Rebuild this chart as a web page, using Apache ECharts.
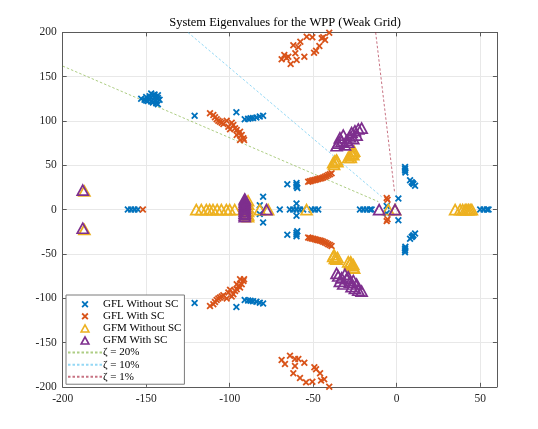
<!DOCTYPE html>
<html>
<head>
<meta charset="utf-8">
<script src="https://cdn.jsdelivr.net/npm/echarts@6/dist/echarts.min.js"></script>
<style>html,body{margin:0;padding:0;background:#fff}#c{width:538px;height:429px}</style>
</head>
<body>
<div id="c"></div>
<script>
// ---------- data ----------
const xTicks = [-200, -150, -100, -50, 0, 50];
const yTicks = [-200, -150, -100, -50, 0, 50, 100, 150, 200];
const seriesNames = ['GFL Without SC', 'GFL With SC', 'GFM Without SC', 'GFM With SC'];
const zetaNames = ['\u03b6 = 20%', '\u03b6 = 10%', '\u03b6 = 1%'];

const gflWithoutSC = [
  [-153,125],[-151,124],[-150,123],[-149,122.5],[-147,122],[-146,121],[-144,120],[-143,119],[-150,127],[-148,128],
  [-146,129],[-145,127],[-143,126],[-142,124],[-147,131],[-145,130],[-143,129],[-148,125],[-144,123],
  [-121,106],[-96,110],
  [-91,102],[-89,102.5],[-87.5,103],[-86,103.5],[-84,104],[-82,105],[-80,106],
  [-82,5],[-80,14.5],[-65.5,28.5],[-60,30],[-60,28],[-60,26],[-59.5,24.5],[-60,7],[-6,4],[1,12.5],
  [5,48],[5,46],[5,44],[5.2,42],[8,33],[9,31],[10,29],[11,27],[9.5,30],
  [-161,0],[-159,0],[-157,0],[-155,0],[-70,0],[-64,0],[-62,0],[-60,0],[-58,0],[-56,0],[-51,0],[-49,0],[-47,0],
  [-22,0],[-20,0],[-18,0],[-16,0],[-15,0],[50,0],[52,0],[54,0],[55,0],
  [-153,-125],[-151,-124],[-150,-123],[-149,-122.5],[-147,-122],[-146,-121],[-144,-120],[-143,-119],[-150,-127],[-148,-128],
  [-146,-129],[-145,-127],[-143,-126],[-142,-124],[-147,-131],[-145,-130],[-143,-129],[-148,-125],[-144,-123],
  [-121,-105.5],[-96,-110],
  [-91,-102],[-89,-102.5],[-87.5,-103],[-86,-103.5],[-84,-104],[-82,-105],[-80,-106],
  [-82,-5],[-80,-14.5],[-65.5,-28.5],[-60,-30],[-60,-28],[-60,-26],[-59.5,-24.5],[-60,-7],[-6,-4],[1,-12],
  [5,-48],[5,-46],[5,-44],[5.2,-42],[8,-33],[9,-31],[10,-29],[11,-27],[9.5,-30]
];

const gflWithSC = [
  [-111.8,108.7],[-109.8,106.8],[-108.8,104.2],[-107.8,101.9],[-106.8,100.3],[-105.8,99.2],[-104.8,98.1],[-103.8,96.6],
  [-101.8,100.3],[-100.8,93.6],[-98.8,98.1],[-97.8,95.5],[-96.8,91.8],[-95.8,89.8],[-94.8,86.1],[-93.8,87.9],
  [-92.8,84.2],[-91.8,80.5],[-95.8,84.2],[-93.8,78.6],[-91.4,78.6],[-99.8,90.6],
  [-40.4,199.7],[-44,194.5],[-44.9,193.3],[-42.9,191.4],[-46.3,184.6],[-48.3,179.4],[-49.5,177],[-50.5,194.5],
  [-53.9,195.2],[-57.7,189.5],[-58.9,183.2],[-61.9,185.4],[-60.7,176.4],[-59.9,168.8],[-55.3,172.6],[-63.5,164.3],
  [-64.9,172.6],[-67.3,174.5],[-68.9,169.6],[-66,171],
  [-53,31.5],[-52,32],[-51,32.5],[-50,33],[-49,33.5],[-48,34],[-47,34.5],[-46,35],[-45,35.5],[-44,36.2],
  [-43,37],[-42,38],[-41,39],[-40,40],[-39,41],
  [-6,13],[-5.5,11],[-152,0],
  [-111.8,-108.7],[-109.8,-106.8],[-108.8,-104.2],[-107.8,-101.9],[-106.8,-100.3],[-105.8,-99.2],[-104.8,-98.1],[-103.8,-96.6],
  [-101.8,-100.3],[-100.8,-93.6],[-98.8,-98.1],[-97.8,-95.5],[-96.8,-91.8],[-95.8,-89.8],[-94.8,-86.1],[-93.8,-87.9],
  [-92.8,-84.2],[-91.8,-80.5],[-95.8,-84.2],[-93.8,-78.6],[-91.4,-78.6],[-99.8,-90.6],
  [-68.9,-169.7],[-63.9,-164.9],[-66.9,-174.3],[-60.9,-168.6],[-58.9,-168.6],[-60.9,-176.5],[-61.9,-184.8],[-57.9,-190],
  [-55.3,-172.8],[-54.3,-195],[-50.5,-194.2],[-49.3,-178],[-48.3,-180.3],[-45.9,-184.8],[-45.3,-193],[-43.4,-191.5],[-40.4,-199.9],
  [-53,-31.5],[-52,-32],[-51,-32.5],[-50,-33],[-49,-33.5],[-48,-34],[-47,-34.5],[-46,-35],[-45,-35.5],[-44,-36.2],
  [-43,-37],[-42,-38],[-41,-39],[-40,-40],[-39,-41],
  [-6,-13],[-5.5,-11]
];

const gfmWithoutSC = [
  [-187,21],[-187,-22.5],
  [-120,0],[-117,0],[-114,0],[-112,0],[-110,0],[-107.5,0],[-105,0],[-102,0],[-100,0],[-97,0],
  [-89,10],[-89,6],[-89,2],[-89,-2],[-89,-6],[-89,-8],
  [-82,0],[-77,0],[-54,0],[-5,0],[-1,0],
  [35,0],[38,0],[39.5,0],[41,0],[42,0],[43,0],[44,0],[45,0],
  [-38,53],[-37,55],[-36,56],[-37.5,51],[-35.5,54],[-29,59],[-28,61],[-27,63],[-26,65],[-25.5,66],[-27.5,59],[-26,62],
  [-38,-53],[-37,-55],[-36,-56],[-37.5,-51],[-35.5,-54],[-29,-59],[-28,-61],[-27,-63],[-26,-65],[-25.5,-66],[-27.5,-59],[-26,-62]
];

const gfmWithSC = [
  [-188,22],[-188,-21],
  [-91,12],[-91,10],[-91,8],[-91,6],[-91,4],[-91,2],[-91,0],[-91,-2],[-91,-4],[-91,-6],[-91,-8],
  [-78,0],[-10.5,0],[-1,0],
  [-36,72],[-35,75],[-33,77],[-34,81],[-32,84],[-30,78],[-28,82],[-27,87],[-25,89],[-24,84],[-23,91],[-21,92],
  [-31,73],[-29,76],[-26,80],
  [-36,-72],[-35,-75],[-33,-77],[-34,-81],[-32,-84],[-30,-78],[-28,-82],[-27,-87],[-25,-89],[-24,-84],[-23,-91],[-21,-92],
  [-31,-73],[-29,-76],[-26,-80]
];

const zeta20Line = [[-200,162],[-11,9]];
const zeta10Line = [[-125,200],[-9,14.5]];
const zeta1Line = [[-12.6,200],[-1.3,20]];

// ---------- styling ----------
const C_BLUE = '#0072BD', C_ORANGE = '#D95319', C_YELLOW = '#EDB120', C_PURPLE = '#7E2F8E';
const FONT = 'Liberation Serif';
const X_PATH = 'path://M0,1.8L1.8,0L5,3.2L8.2,0L10,1.8L6.8,5L10,8.2L8.2,10L5,6.8L1.8,10L0,8.2L3.2,5Z';
const TRI_PATH = 'path://M5,0L10,9L0,9Z';

function crossSeries(name, data, color) {
  return { name, type: 'scatter', data, symbol: X_PATH, symbolSize: 7,
    itemStyle: { color, opacity: 1 }, z: 3, silent: true };
}
function triSeries(name, data, color) {
  return { name, type: 'scatter', data, symbol: 'triangle', symbolSize: [11, 10],
    itemStyle: { color: 'rgba(255,255,255,0)', borderColor: color, borderWidth: 1.7, opacity: 1 }, z: 3, silent: true };
}
function zetaSeries(name, data, color) {
  return { name, type: 'line', data, symbol: 'none', silent: true, z: 2,
    lineStyle: { color, width: 1, type: [2.5, 2], opacity: 0.6 } };
}

const chart = echarts.init(document.getElementById('c'), null, { renderer: 'canvas' });
const axisColor = '#5a5a5a';
const labelStyle = { fontFamily: FONT, fontSize: 11.5, color: '#262626' };
const hiddenDot = { color: 'rgba(0,0,0,0)', borderWidth: 0, opacity: 0 };

chart.setOption({
  animation: false,
  backgroundColor: '#fff',
  title: { text: 'System Eigenvalues for the WPP (Weak Grid)', left: 280, top: 11, textAlign: 'center',
    textStyle: { fontFamily: FONT, fontSize: 12.5, fontWeight: 'normal', color: '#000' } },
  grid: { left: 62.7, right: 41.1, top: 32.4, bottom: 42.2, outerBoundsMode: 'none', containLabel: false },
  xAxis: [
    { type: 'value', min: -200, max: 60, interval: 50, position: 'bottom',
      axisLine: { show: true, onZero: false, lineStyle: { color: axisColor, width: 1 } },
      axisTick: { show: true, inside: true, length: 4, lineStyle: { color: axisColor } },
      axisLabel: { ...labelStyle, margin: 6, formatter: v => (xTicks.includes(v) ? String(v) : '') },
      splitLine: { show: true, lineStyle: { color: '#e8e8e8', width: 1 } } },
    { type: 'value', min: -200, max: 60, interval: 50, position: 'top',
      axisLine: { show: true, onZero: false, lineStyle: { color: axisColor, width: 1 } },
      axisTick: { show: true, inside: true, length: 4, lineStyle: { color: axisColor } },
      axisLabel: { show: false }, splitLine: { show: false } }
  ],
  yAxis: [
    { type: 'value', min: -200, max: 200, interval: 50, position: 'left',
      axisLine: { show: true, onZero: false, lineStyle: { color: axisColor, width: 1 } },
      axisTick: { show: true, inside: true, length: 4, lineStyle: { color: axisColor } },
      axisLabel: { ...labelStyle, margin: 6, formatter: v => (yTicks.includes(v) ? String(v) : '') },
      splitLine: { show: true, lineStyle: { color: '#e8e8e8', width: 1 } } },
    { type: 'value', min: -200, max: 200, interval: 50, position: 'right',
      axisLine: { show: true, onZero: false, lineStyle: { color: axisColor, width: 1 } },
      axisTick: { show: true, inside: true, length: 4, lineStyle: { color: axisColor } },
      axisLabel: { show: false }, splitLine: { show: false } }
  ],
  legend: {
    orient: 'vertical', left: 66, top: 295, itemWidth: 34, itemHeight: 7, itemGap: 0.07,
    padding: [3.3, 3, 1.5, 1], backgroundColor: '#fff', borderColor: '#7a7a7a', borderWidth: 1,
    borderRadius: 0, selectedMode: false, z: 10,
    textStyle: { fontFamily: FONT, fontSize: 11, lineHeight: 12, color: '#000', padding: [0, 0, 0, -4] },
    data: [
      { name: seriesNames[0], icon: X_PATH, itemStyle: { color: C_BLUE } },
      { name: seriesNames[1], icon: X_PATH, itemStyle: { color: C_ORANGE } },
      { name: seriesNames[2], icon: TRI_PATH, itemStyle: { color: 'rgba(255,255,255,0)', borderColor: C_YELLOW, borderWidth: 1.6 } },
      { name: seriesNames[3], icon: TRI_PATH, itemStyle: { color: 'rgba(255,255,255,0)', borderColor: C_PURPLE, borderWidth: 1.6 } },
      { name: zetaNames[0], itemStyle: hiddenDot }, { name: zetaNames[1], itemStyle: hiddenDot }, { name: zetaNames[2], itemStyle: hiddenDot }
    ]
  },
  series: [
    zetaSeries(zetaNames[0], zeta20Line, '#77AC30'),
    zetaSeries(zetaNames[1], zeta10Line, '#4DBEEE'),
    zetaSeries(zetaNames[2], zeta1Line, '#A2142F'),
    crossSeries(seriesNames[0], gflWithoutSC, C_BLUE),
    crossSeries(seriesNames[1], gflWithSC, C_ORANGE),
    triSeries(seriesNames[2], gfmWithoutSC, C_YELLOW),
    triSeries(seriesNames[3], gfmWithSC, C_PURPLE)
  ]
});
</script>
</body>
</html>
